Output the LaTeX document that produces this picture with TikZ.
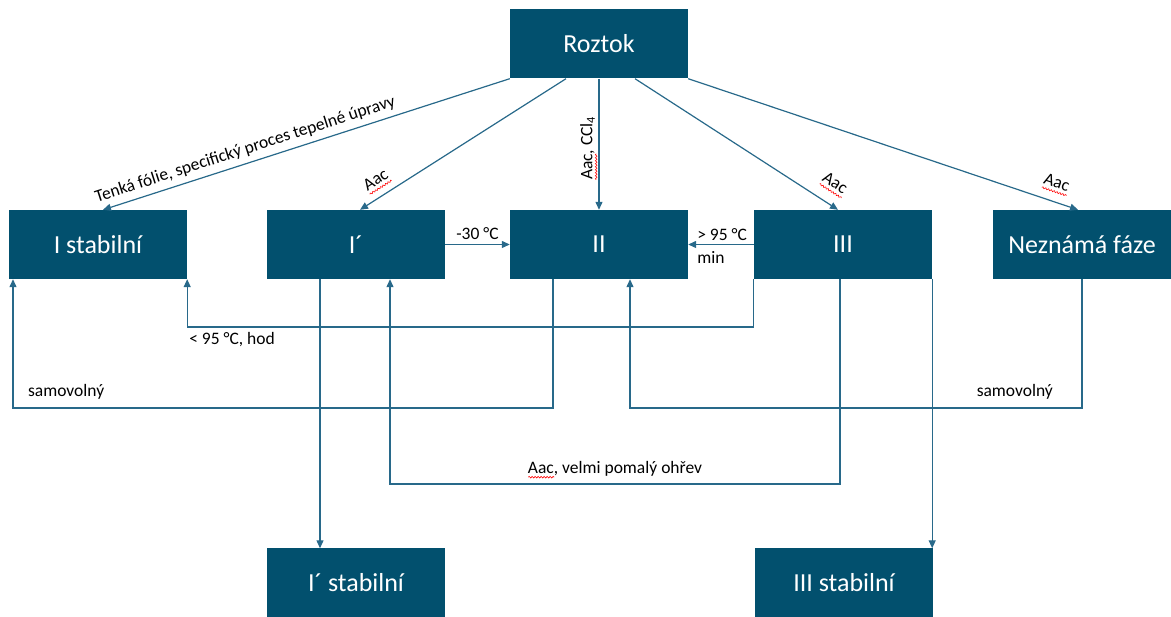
\documentclass[tikz,border=0pt]{standalone}
\usepackage{fontspec}
\setmainfont{Carlito}
\usetikzlibrary{arrows.meta,decorations.pathmorphing}
\definecolor{boxc}{RGB}{2,80,110}
\definecolor{linec}{RGB}{40,105,138}
\newlength\spelllen
\newcommand\spellwave[1]{\settowidth\spelllen{#1}\rlap{\raisebox{-5pt}{\tikz\draw[red,-,line width=0.6pt,decorate,decoration={snake,amplitude=0.8pt,segment length=3pt}] (0pt,0pt)--(\spelllen,0pt);}}#1}
\begin{document}
\begin{tikzpicture}[x=1pt,y=-1pt,
  box/.style={fill=boxc,text=white,minimum width=178pt,minimum height=69pt,inner sep=0pt,font=\fontsize{26}{30}\selectfont},
  arr/.style={draw=linec,line width=1.2pt,-{Triangle[length=8pt,width=7pt]}},
  lab/.style={font=\fontsize{17.5}{20}\selectfont,text=black,inner sep=1.5pt}]
\useasboundingbox (0,0) rectangle (1171,617);
% boxes
\node[box] (Roztok) at (599,44) {Roztok};
\node[box] (Istab) at (98,244.5) {I stabilní};
\node[box] (Ip) at (356,244.5) {I´};
\node[box] (II) at (599,244.5) {II};
\node[box] (III) at (843,244.5) {III};
\node[box] (Nez) at (1082,244.5) {Neznámá fáze};
\node[box] (Ipstab) at (356,583) {I´ stabilní};
\node[box] (IIIstab) at (844,583) {III stabilní};
% helper levels
\coordinate (yA) at (0,327);
\coordinate (yB) at (0,408);
\coordinate (yC) at (0,484);
% from Roztok
\draw[arr] (Roztok.south west) -- node[lab,sloped,above=4pt,pos=0.64]{Tenká fólie, specifický proces tepelné úpravy} ([xshift=5pt]Istab.north);
\draw[arr] ([xshift=-33pt]Roztok.south) -- node[lab,sloped,above=5pt,pos=0.88]{\spellwave{Aac}} ([xshift=4pt]Ip.north);
\draw[arr] (Roztok.south) -- node[lab,rotate=90,anchor=south,pos=0.53,yshift=0pt]{\spellwave{Aac}, CCl\textsubscript{4}} (II.north);
\draw[arr] ([xshift=36pt]Roztok.south) -- node[lab,sloped,above=9pt,pos=0.93]{\spellwave{Aac}} ([xshift=-5pt]III.north);
\draw[arr] (Roztok.south east) -- node[lab,sloped,above=7pt,pos=0.93]{\spellwave{Aac}} ([xshift=-4pt]Nez.north);
% horizontal
\draw[arr] (Ip.east) -- node[lab,above=3pt]{-30 °C} (II.west);
\draw[arr] (III.west) -- node[lab,pos=1,anchor=south west,xshift=7pt,yshift=2pt]{> 95 °C}
  node[lab,pos=1,anchor=north west,xshift=7pt,yshift=-5pt]{min} (II.east);
% lower connectors
\draw[arr] (III.south west) -- (III.south west |- yA) -| node[lab,pos=0.5,anchor=north west,yshift=-3pt]{< 95 °C, hod} (Istab.south east);
\draw[arr] ([xshift=-46pt]II.south) -- ([xshift=-46pt]II.south |- yB) -| node[lab,pos=0.5,anchor=south west,xshift=13pt,yshift=7pt]{samovolný} ([xshift=-85pt]Istab.south);
\draw[arr] (Nez.south) -- (Nez.south |- yB) -| node[lab,pos=0,anchor=south east,xshift=-27pt,yshift=7pt]{samovolný} ([xshift=31pt]II.south);
\draw[arr] ([xshift=-3pt]III.south) -- ([xshift=-3pt]III.south |- yC) -| node[lab,pos=0.25,above=4pt]{\spellwave{Aac}, velmi pomalý ohřev} ([xshift=34pt]Ip.south);
\draw[arr] ([xshift=-36pt]Ip.south) -- ([xshift=-36pt]Ipstab.north);
\draw[arr] (III.south east) -- (III.south east |- IIIstab.north);
\end{tikzpicture}
\end{document}
